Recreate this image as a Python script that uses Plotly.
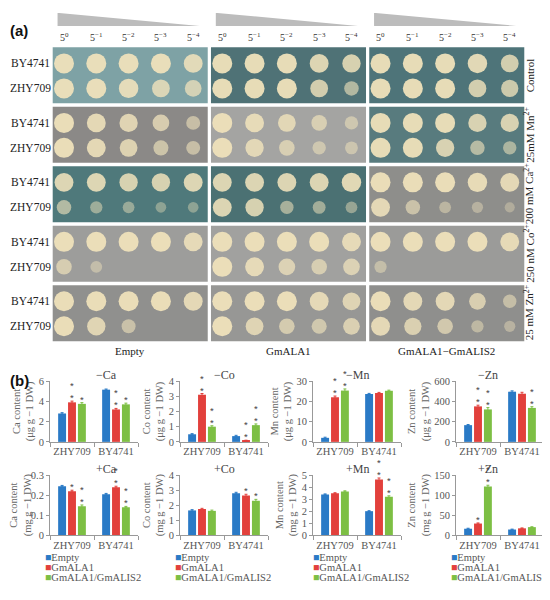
import plotly.graph_objects as go

# the page puts the plot 8 px in from the top-left corner, so the figure is
# 8 px smaller and every reference pixel position is shifted by OFF
OFF = 8
W, H = 550 - OFF, 600 - OFF
SERIF = "Liberation Serif"

# ---- (a) spot assay -------------------------------------------------------
STRAINS = ["BY4741", "ZHY709"]
VECTORS = ["Empty", "GmALA1", "GmALA1−GmALIS2"]
DILUTIONS = ["5<sup>0</sup>", "5<sup>−1</sup>", "5<sup>−2</sup>", "5<sup>−3</sup>", "5<sup>−4</sup>"]
CONDITIONS = [
    "Control",
    "25mM Mn<sup>2+</sup>",
    "200 mM Ca<sup>2+</sup>",
    "250 nM Co<sup>2+</sup>",
    "25 mM Zn<sup>2+</sup>",
]

# growth score of each spot (0 none .. 1 full), [strain][vector][dilution]
GROWTH_CONTROL = [
    [[1, 1, 1, 1, 0.9], [1, 1, 1, 0.9, 0.85], [1, 1, 1, 0.95, 0.8]],
    [[1, 1, 0.95, 0.8, 0.7], [1, 1, 1, 0.8, 0.5], [1, 1, 1, 0.8, 0.75]],
]
GROWTH_MN = [
    [[1, 0.9, 0.85, 0.7, 0.45], [1, 0.9, 0.8, 0.6, 0.4], [1, 1, 1, 0.85, 0.85]],
    [[1, 0.9, 0.8, 0.55, 0.45], [1, 0.85, 0.6, 0.4, 0.35], [1, 1, 0.85, 0.5, 0.4]],
]
GROWTH_CA = [
    [[0.9, 0.9, 0.85, 0.85, 0.9], [0.9, 0.9, 0.9, 0.9, 0.95], [1, 1, 1, 0.95, 0.9]],
    [[0.5, 0.3, 0.25, 0.15, 0.15], [0.9, 0.85, 0.4, 0.35, 0.25], [0.9, 0.5, 0.25, 0.2, 0.1]],
]
GROWTH_CO = [
    [[1, 1, 1, 1, 0.9], [1, 1, 1, 1, 0.9], [1, 1, 1, 1, 0.9]],
    [[0.6, 0.25, 0, 0, 0], [1, 0.9, 0.7, 0.6, 0.7], [0.3, 0, 0, 0, 0]],
]
GROWTH_ZN = [
    [[1, 1, 1, 1, 0.9], [1, 1, 1, 0.9, 0.8], [1, 0.9, 0.9, 0.7, 0.4]],
    [[1, 0.85, 0.45, 0, 0], [1, 0.8, 0.6, 0.55, 0.7], [0.9, 0.75, 0.6, 0.3, 0.2]],
]
GROWTH = [GROWTH_CONTROL, GROWTH_MN, GROWTH_CA, GROWTH_CO, GROWTH_ZN]

PLATE_COLORS = [
    ["#7ea2a5", "#4f7276", "#4e7479"],
    ["#8b8987", "#a4a4a2", "#587b7e"],
    ["#4f797b", "#4b7173", "#8e8e8b"],
    ["#9d9d9b", "#a1a19f", "#9b9b99"],
    ["#90908e", "#979795", "#8f8f8d"],
]

# ---- (b) metal content ----------------------------------------------------
BAR_STRAINS = ["ZHY709", "BY4741"]
SERIES = ["Empty", "GmALA1", "GmALA1/GmALIS2"]
SERIES_COLORS = ["#2a7ac6", "#e2403c", "#7dbf44"]
PANELS = ["−Ca", "−Co", "−Mn", "−Zn", "+Ca", "+Co", "+Mn", "+Zn"]
Y_TITLES = [
    "Ca content<br>(μg g −1 DW)",
    "Co content<br>(μg g −1 DW)",
    "Mn content<br>(μg g −1 DW)",
    "Zn content<br>(μg g −1 DW)",
    "Ca content<br>(mg g −1 DW)",
    "Co content<br>(mg g −1 DW)",
    "Mn content<br>(mg g −1 DW)",
    "Zn content<br>(mg g −1 DW)",
]
Y_MAX = [6, 4, 30, 600, 0.3, 4, 5, 150]
Y_STEP = [2, 1, 10, 200, 0.1, 1, 1, 50]

# values [series][strain]
MINUS_CA = [[2.8, 5.15], [3.9, 3.2], [3.75, 3.7]]
MINUS_CO = [[0.5, 0.38], [3.1, 0.08], [1.0, 1.1]]
MINUS_MN = [[2.0, 23.6], [22.0, 24.1], [25.3, 25.2]]
MINUS_ZN = [[165, 495], [350, 475], [320, 335]]
PLUS_CA = [[0.245, 0.205], [0.22, 0.24], [0.145, 0.14]]
PLUS_CO = [[1.65, 2.8], [1.75, 2.65], [1.62, 2.3]]
PLUS_MN = [[3.4, 2.0], [3.5, 4.65], [3.65, 3.2]]
PLUS_ZN = [[16, 14], [29, 17], [122, 20]]
VALUES = [MINUS_CA, MINUS_CO, MINUS_MN, MINUS_ZN, PLUS_CA, PLUS_CO, PLUS_MN, PLUS_ZN]

ERR_MINUS_CA = [[0.08, 0.06], [0.12, 0.1], [0.12, 0.12]]
ERR_MINUS_CO = [[0.04, 0.05], [0.08, 0.03], [0.06, 0.08]]
ERR_MINUS_MN = [[0.3, 0.3], [0.6, 0.3], [0.8, 0.3]]
ERR_MINUS_ZN = [[6, 8], [12, 14], [18, 12]]
ERR_PLUS_CA = [[0.004, 0.004], [0.005, 0.005], [0.006, 0.004]]
ERR_PLUS_CO = [[0.05, 0.06], [0.04, 0.08], [0.05, 0.09]]
ERR_PLUS_MN = [[0.04, 0.04], [0.04, 0.12], [0.05, 0.08]]
ERR_PLUS_ZN = [[1.2, 1.0], [1.5, 1.0], [3.0, 1.0]]
ERRORS = [ERR_MINUS_CA, ERR_MINUS_CO, ERR_MINUS_MN, ERR_MINUS_ZN,
          ERR_PLUS_CA, ERR_PLUS_CO, ERR_PLUS_MN, ERR_PLUS_ZN]

SIG_MINUS_CA = [["", ""], ["**", "**"], ["*", "*"]]
SIG_MINUS_CO = [["", ""], ["**", "**"], ["**", "**"]]
SIG_MINUS_MN = [["", ""], ["**", ""], ["**", ""]]
SIG_MINUS_ZN = [["", ""], ["**", ""], ["**", "**"]]
SIG_PLUS_CA = [["", ""], ["*", "**"], ["**", "**"]]
SIG_PLUS_CO = [["", ""], ["", "*"], ["", "*"]]
SIG_PLUS_MN = [["", ""], ["", "**"], ["", "**"]]
SIG_PLUS_ZN = [["", ""], ["*", ""], ["**", ""]]
SIGS = [SIG_MINUS_CA, SIG_MINUS_CO, SIG_MINUS_MN, SIG_MINUS_ZN,
        SIG_PLUS_CA, SIG_PLUS_CO, SIG_PLUS_MN, SIG_PLUS_ZN]


def px_x(x):
    return (x - OFF) / W


def px_y(y):
    return 1 - (y - OFF) / H


fig = go.Figure()

# overlay axis for the plates: x in spot columns, y in plate rows
GROUP_STEP = 4.9
SPOT_PX, X0_PX = 32.3, 64
ROW_PX, Y0_PX = 60.6, 43
STRAIN_OFFSET = [0.27, 0.69]

xs, ys, sizes, alphas = [], [], [], []
for c, cond in enumerate(GROWTH):
    for s, per_strain in enumerate(cond):
        for g, per_vec in enumerate(per_strain):
            for d, val in enumerate(per_vec):
                if val <= 0:
                    continue
                xs.append(g * GROUP_STEP + d)
                ys.append(c + STRAIN_OFFSET[s])
                sizes.append(9 + 11 * val)
                alphas.append(0.3 + 0.65 * val)

shapes = []
for c in range(len(CONDITIONS)):
    for g in range(len(VECTORS)):
        shapes.append(dict(
            type="rect", xref="x9", yref="y9", layer="below",
            x0=g * GROUP_STEP - 0.35, x1=g * GROUP_STEP + 4.45,
            y0=c, y1=c + 0.94,
            fillcolor=PLATE_COLORS[c][g], line=dict(width=0),
        ))
for g in range(len(VECTORS)):
    a, b = g * GROUP_STEP - 0.2, g * GROUP_STEP + 4.2
    shapes.append(dict(
        type="path", xref="x9", yref="y9", layer="below",
        path=f"M {a},-0.58 L {a},-0.36 L {b},-0.36 Z",
        fillcolor="#bcbcbc", line=dict(width=0),
    ))

fig.add_trace(go.Scatter(
    x=xs, y=ys, mode="markers", xaxis="x9", yaxis="y9", showlegend=False,
    marker=dict(size=sizes, color="#efe2bb", opacity=alphas, line=dict(width=0)),
    hoverinfo="skip",
))

annotations = []
lab_font = dict(family=SERIF, size=11.5, color="#222")
for c, cond in enumerate(CONDITIONS):
    for s, strain in enumerate(STRAINS):
        annotations.append(dict(
            xref="x9", yref="y9", x=(30 - X0_PX) / SPOT_PX, y=c + STRAIN_OFFSET[s],
            text=strain, showarrow=False, font=lab_font,
        ))
    annotations.append(dict(
        xref="paper", yref="y9", x=px_x(538), y=c + 0.47,
        text=cond, textangle=-90, showarrow=False,
        font=dict(family=SERIF, size=11, color="#222"),
    ))
for g, vec in enumerate(VECTORS):
    for d, dil in enumerate(DILUTIONS):
        annotations.append(dict(
            xref="x9", yref="y9", x=g * GROUP_STEP + d, y=-0.17,
            text=dil, showarrow=False, font=dict(family=SERIF, size=10, color="#333"),
        ))
    annotations.append(dict(
        xref="x9", yref="y9", x=g * GROUP_STEP + 2.05, y=(352 - Y0_PX) / ROW_PX,
        text=vec, showarrow=False, font=dict(family=SERIF, size=11, color="#222"),
    ))

for label, y in (("(a)", 15), ("(b)", 382)):
    annotations.append(dict(
        xref="paper", yref="paper", x=px_x(OFF), y=px_y(y), xanchor="left",
        text=f"<b>{label}</b>", showarrow=False,
        font=dict(family="Liberation Sans", size=15, color="#111"),
    ))

# ---- bar panels -----------------------------------------------------------
COL_PX = [(50, 138), (180, 268), (313, 401), (456, 544)]
ROW_PX_B = [(383, 445), (479, 540)]
OFFS = [-0.225, 0, 0.225]
axis_font = dict(family=SERIF, size=10.5, color="#555")
layout_axes = {}

for p, name in enumerate(PANELS):
    r, col = divmod(p, 4)
    xa, ya = f"x{p + 1}", f"y{p + 1}"
    for s, series in enumerate(SERIES):
        fig.add_trace(go.Bar(
            x=[i + OFFS[s] for i in range(len(BAR_STRAINS))],
            y=VALUES[p][s], width=0.18, name=series,
            marker=dict(color=SERIES_COLORS[s], line=dict(width=0)),
            error_y=dict(type="data", array=ERRORS[p][s], thickness=1, width=1.5,
                         color=SERIES_COLORS[s]),
            xaxis=xa, yaxis=ya, showlegend=False,
        ))
        for i in range(len(BAR_STRAINS)):
            sig = SIGS[p][s][i]
            if sig:
                annotations.append(dict(
                    xref=xa, yref=ya, x=i + OFFS[s], y=VALUES[p][s][i] + ERRORS[p][s][i],
                    yanchor="bottom", yshift=-4, showarrow=False,
                    text="<br>".join(sig),
                    font=dict(family="Liberation Sans", size=9.5, color="#444"),
                ))
    x0, x1 = COL_PX[col]
    y0, y1 = ROW_PX_B[r]
    layout_axes[f"xaxis{p + 1}"] = dict(
        domain=[px_x(x0), px_x(x1)], anchor=ya, range=[-0.5, 1.5],
        tickvals=list(range(len(BAR_STRAINS))), ticktext=BAR_STRAINS, ticks="",
        minor=dict(tickvals=[-0.5, 0.5, 1.5], ticks="outside", ticklen=4, tickcolor="#999"),
        showline=True, linecolor="#999", showgrid=False, zeroline=False,
        tickfont=dict(family=SERIF, size=10.5, color="#555"),
    )
    layout_axes[f"yaxis{p + 1}"] = dict(
        domain=[px_y(y1), px_y(y0)], anchor=xa, range=[0, Y_MAX[p]], dtick=Y_STEP[p],
        showline=True, linecolor="#999", ticks="outside", ticklen=3, tickcolor="#999",
        showgrid=False, zeroline=False, tickfont=axis_font,
        title=dict(text=Y_TITLES[p], standoff=2,
                   font=dict(family=SERIF, size=10.5, color="#666")),
    )
    annotations.append(dict(
        xref="paper", yref="paper", x=px_x((x0 + x1) / 2), y=px_y(y0 + 3),
        yanchor="bottom", text=name, showarrow=False,
        font=dict(family=SERIF, size=12, color="#444"),
    ))

# legends under the bottom row
LEG_X = [43, 173, 311, 449]
for lx in LEG_X:
    for s, series in enumerate(SERIES):
        annotations.append(dict(
            xref="paper", yref="paper", x=px_x(lx), y=px_y(570 + 10.5 * s), xanchor="left",
            text=f"<span style='color:{SERIES_COLORS[s]}'>■</span>{series}",
            showarrow=False, font=dict(family=SERIF, size=10.5, color="#555"),
        ))

fig.update_layout(
    width=W, height=H,
    margin=dict(l=0, r=0, t=0, b=0),
    paper_bgcolor="white", plot_bgcolor="rgba(0,0,0,0)",
    showlegend=False,
    xaxis9=dict(domain=[0, 1], anchor="y9", visible=False,
                range=[(OFF - X0_PX) / SPOT_PX, (550 - X0_PX) / SPOT_PX]),
    yaxis9=dict(domain=[0, 1], anchor="x9", visible=False,
                range=[(600 - Y0_PX) / ROW_PX, (OFF - Y0_PX) / ROW_PX]),
    shapes=shapes, annotations=annotations,
    **layout_axes,
)

fig.write_html("out.html")
